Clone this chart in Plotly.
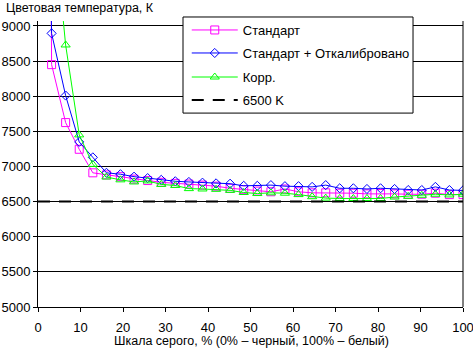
import plotly.graph_objects as go

gray_levels = [0, 3.2, 6.5, 9.7, 12.9, 16.1, 19.4, 22.6, 25.8, 29.0, 32.3, 35.5, 38.7, 41.9, 45.2, 48.4,
               51.6, 54.8, 58.1, 61.3, 64.5, 67.7, 71.0, 74.2, 77.4, 80.6, 83.9, 87.1, 90.3, 93.5, 96.8, 100]

standard = [40000, 8450, 7625, 7245, 6910, 6880, 6855, 6820, 6800, 6775, 6760, 6750, 6735, 6720, 6690, 6670,
            6650, 6640, 6680, 6640, 6625, 6625, 6620, 6620, 6610, 6615, 6610, 6605, 6605, 6620, 6600, 6600]

calibrated = [20000, 8895, 8010, 7350, 7130, 6910, 6890, 6855, 6835, 6810, 6790, 6780, 6770, 6760, 6755, 6725,
              6725, 6735, 6720, 6720, 6710, 6735, 6690, 6690, 6680, 6690, 6680, 6665, 6665, 6710, 6665, 6660]

corrected = [30000, 10800, 8730, 7450, 7030, 6850, 6810, 6780, 6795, 6745, 6730, 6685, 6680, 6675, 6660, 6630,
             6615, 6625, 6620, 6600, 6570, 6550, 6545, 6545, 6545, 6545, 6565, 6575, 6590, 6605, 6595, 6605]

ref_x = [0, 100]
ref_y = [6500, 6500]

names = ["Стандарт", "Стандарт + Откалибровано", "Корр.", "6500 K"]
y_ticks = [5000, 5500, 6000, 6500, 7000, 7500, 8000, 8500, 9000]
x_ticks = [0, 10, 20, 30, 40, 50, 60, 70, 80, 90, 100]

FONT = "Liberation Sans, Arial, sans-serif"

fig = go.Figure()
fig.add_trace(go.Scatter(x=gray_levels, y=standard, name=names[0], mode="lines+markers", legend="legend",
                         line=dict(color="#FF00FF", width=1),
                         marker=dict(symbol="square-open", size=8, color="#FF00FF", line=dict(width=1))))
fig.add_trace(go.Scatter(x=gray_levels, y=calibrated, name=names[1], mode="lines+markers", legend="legend2",
                         line=dict(color="#0000FF", width=1),
                         marker=dict(symbol="diamond-open", size=7, color="#0000FF", line=dict(width=1))))
fig.add_trace(go.Scatter(x=gray_levels, y=corrected, name=names[2], mode="lines+markers", legend="legend3",
                         line=dict(color="#00FF00", width=1),
                         marker=dict(symbol="triangle-up-open", size=8, color="#00FF00", line=dict(width=1))))
fig.add_trace(go.Scatter(x=ref_x, y=ref_y, name=names[3], mode="lines", legend="legend4",
                         line=dict(color="#000000", width=2, dash="12px,9px")))

leg_x = 0.350
leg_common = dict(x=leg_x, xanchor="left", yanchor="middle", bgcolor="rgba(0,0,0,0)",
                  borderwidth=0, itemwidth=46, font=dict(family=FONT, size=13, color="black"))

fig.update_layout(
    width=473, height=349,
    margin=dict(l=38, r=10, t=21, b=42),
    paper_bgcolor="white", plot_bgcolor="white",
    font=dict(family=FONT, size=12, color="black"),
    showlegend=True,
    legend=dict(y=0.9685, **leg_common),
    legend2=dict(y=0.888, **leg_common),
    legend3=dict(y=0.804, **leg_common),
    legend4=dict(y=0.724, **leg_common),
    shapes=[
        dict(type="rect", xref="paper", yref="paper", x0=0.3412, x1=0.8824, y0=0.678, y1=1.014,
             line=dict(color="black", width=1), fillcolor="white", layer="above"),
        dict(type="line", xref="paper", yref="paper", x0=1, x1=1, y0=0, y1=1,
             line=dict(color="black", width=1), layer="above"),
    ],
    xaxis=dict(range=[0, 100], tickvals=x_ticks, showgrid=False, zeroline=False, automargin=False,
               showline=True, linecolor="black", linewidth=1, ticklabeloverflow="allow",
               ticks="outside", ticklen=4, tickcolor="black", ticklabelstandoff=4,
               tickfont=dict(family=FONT, size=13)),
    yaxis=dict(range=[5000, 9071], tickvals=y_ticks, showgrid=True, gridcolor="black", gridwidth=1,
               zeroline=False, showline=True, linecolor="black", linewidth=1, automargin=False,
               ticklabeloverflow="allow",
               ticks="outside", ticklen=4, tickcolor="black",
               tickfont=dict(family=FONT, size=13)),
    annotations=[
        dict(text="Цветовая температура, К", xref="paper", yref="paper",
             x=-0.08, y=1.045, xanchor="left", yanchor="middle", showarrow=False,
             font=dict(family=FONT, size=12.5)),
        dict(text="Шкала серого, % (0% – черный, 100% – белый)", xref="paper", yref="paper",
             x=0.503, y=-0.119, xanchor="center", yanchor="middle", showarrow=False,
             font=dict(family=FONT, size=12.5)),
    ],
)

fig.write_html("out.html")
